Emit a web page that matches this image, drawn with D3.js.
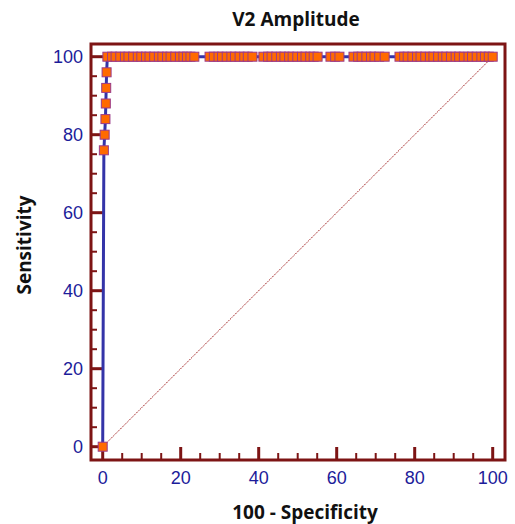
<!DOCTYPE html>
<html><head><meta charset="utf-8">
<script src="https://cdn.jsdelivr.net/npm/d3@7"></script>
<style>body{margin:0;background:#fff}svg{display:block}</style>
</head><body>
<script>
const title = "V2 Amplitude";
const xTitle = "100 - Specificity";
const yTitle = "Sensitivity";
const majorTicks = [0, 20, 40, 60, 80, 100];
const minorTicks = [5, 10, 15, 25, 30, 35, 45, 50, 55, 65, 70, 75, 85, 90, 95];
// ROC points: 100 - specificity (fpr) and sensitivity (tpr)
const fpr = [0, 0.3, 0.5, 0.7, 0.8, 0.9, 1.0,
  1.2, 2.4, 3.3, 4.5, 5.7, 6.6, 7.8, 9.0, 9.9, 11.1, 12.0, 13.2, 14.4, 15.3, 16.5, 17.4, 18.6, 19.8, 20.7, 21.6, 22.5, 23.5,
  27.4, 28.5, 29.7, 30.6, 31.8, 33.0, 33.9, 35.1, 36.3, 37.2, 38.4,
  41.2, 42.4, 43.3, 44.5, 45.7, 46.6, 47.8, 48.7, 49.9, 51.1, 52.0, 53.2, 54.1, 55.1,
  58.4, 59.6, 60.7,
  64.3, 65.5, 66.4, 67.6, 68.8, 69.7, 70.9, 72.3,
  76.1, 77.3, 78.2, 79.4, 80.6, 81.5, 82.7, 83.9, 84.8, 86.0, 87.2, 88.1, 89.3, 90.5, 91.4, 92.6, 93.8, 94.7, 95.9, 97.1, 98.0, 99.0, 100];
const tpr = [0, 76, 80, 84, 88, 92, 96,
  100, 100, 100, 100, 100, 100, 100, 100, 100, 100, 100, 100, 100, 100, 100, 100, 100, 100, 100, 100, 100, 100,
  100, 100, 100, 100, 100, 100, 100, 100, 100, 100, 100,
  100, 100, 100, 100, 100, 100, 100, 100, 100, 100, 100, 100, 100, 100,
  100, 100, 100,
  100, 100, 100, 100, 100, 100, 100, 100,
  100, 100, 100, 100, 100, 100, 100, 100, 100, 100, 100, 100, 100, 100, 100, 100, 100, 100, 100, 100, 100, 100, 100];
const diagonal = [0, 100];

const W = 515, H = 524;
const frame = {left: 91, right: 505, top: 44, bottom: 460};
const x = d3.scaleLinear().domain([0, 100]).range([102.7, 492.7]);
const y = d3.scaleLinear().domain([0, 100]).range([446.7, 56.7]);
const maroon = "#7d1414", blue = "#1c1c9a";

const svg = d3.select("body").append("svg").attr("width", W).attr("height", H);

// frame
svg.append("rect").attr("x", frame.left).attr("y", frame.top)
  .attr("width", frame.right - frame.left).attr("height", frame.bottom - frame.top)
  .attr("fill", "none").attr("stroke", maroon).attr("stroke-width", 3);

// ticks (inside frame)
const gy = svg.append("g");
gy.selectAll("line.maj").data(majorTicks).join("line")
  .attr("x1", frame.left).attr("x2", frame.left + 12)
  .attr("y1", d => y(d)).attr("y2", d => y(d))
  .attr("stroke", maroon).attr("stroke-width", 3);
gy.selectAll("line.min").data(minorTicks).join("line").attr("class", "min")
  .attr("x1", frame.left).attr("x2", frame.left + 6)
  .attr("y1", d => y(d)).attr("y2", d => y(d))
  .attr("stroke", maroon).attr("stroke-width", 2);
const gx = svg.append("g");
gx.selectAll("line.maj").data(majorTicks).join("line")
  .attr("y1", frame.bottom).attr("y2", frame.bottom - 13)
  .attr("x1", d => x(d)).attr("x2", d => x(d))
  .attr("stroke", maroon).attr("stroke-width", 3);
gx.selectAll("line.min").data(minorTicks).join("line").attr("class", "min")
  .attr("y1", frame.bottom).attr("y2", frame.bottom - 7)
  .attr("x1", d => x(d)).attr("x2", d => x(d))
  .attr("stroke", maroon).attr("stroke-width", 2);

// tick labels
svg.append("g").selectAll("text").data(majorTicks).join("text")
  .attr("x", 83).attr("y", d => y(d) + 6.5).attr("text-anchor", "end")
  .attr("font-family", "Liberation Sans, Arial, sans-serif").attr("font-size", 18)
  .attr("fill", blue).text(d => d);
svg.append("g").selectAll("text").data(majorTicks).join("text")
  .attr("x", d => x(d)).attr("y", 484).attr("text-anchor", "middle")
  .attr("font-family", "Liberation Sans, Arial, sans-serif").attr("font-size", 18)
  .attr("fill", blue).text(d => d);

// diagonal reference line
svg.append("line")
  .attr("x1", x(diagonal[0])).attr("y1", y(diagonal[0]))
  .attr("x2", x(diagonal[1])).attr("y2", y(diagonal[1]))
  .attr("stroke", "#a02020").attr("stroke-width", 1).attr("stroke-dasharray", "1.5,1");

// ROC curve
const pts = fpr.map((v, i) => [v, tpr[i]]);
svg.append("path").datum(pts)
  .attr("d", d3.line().x(d => x(d[0])).y(d => y(d[1])))
  .attr("fill", "none").attr("stroke", "#3434a8").attr("stroke-width", 3);
svg.append("g").selectAll("rect").data(pts).join("rect")
  .attr("x", d => x(d[0]) - 4.5).attr("y", d => y(d[1]) - 4.5)
  .attr("width", 9).attr("height", 9)
  .attr("fill", "#ff6a00").attr("stroke", "#9a3a8a").attr("stroke-width", 1);

// titles
const tf = "'Open Sans', Lato, sans-serif";
svg.append("text").attr("x", 296).attr("y", 26).attr("text-anchor", "middle")
  .attr("font-family", tf).attr("font-weight", "bold").attr("font-size", 19).attr("fill", "#111").text(title);
svg.append("text").attr("x", 305).attr("y", 519).attr("text-anchor", "middle")
  .attr("font-family", tf).attr("font-weight", "bold").attr("font-size", 19).attr("fill", "#111").text(xTitle);
svg.append("text").attr("transform", "translate(31,245) rotate(-90)").attr("text-anchor", "middle")
  .attr("font-family", tf).attr("font-weight", "bold").attr("font-size", 19).attr("fill", "#111").text(yTitle);
</script>
</body></html>
